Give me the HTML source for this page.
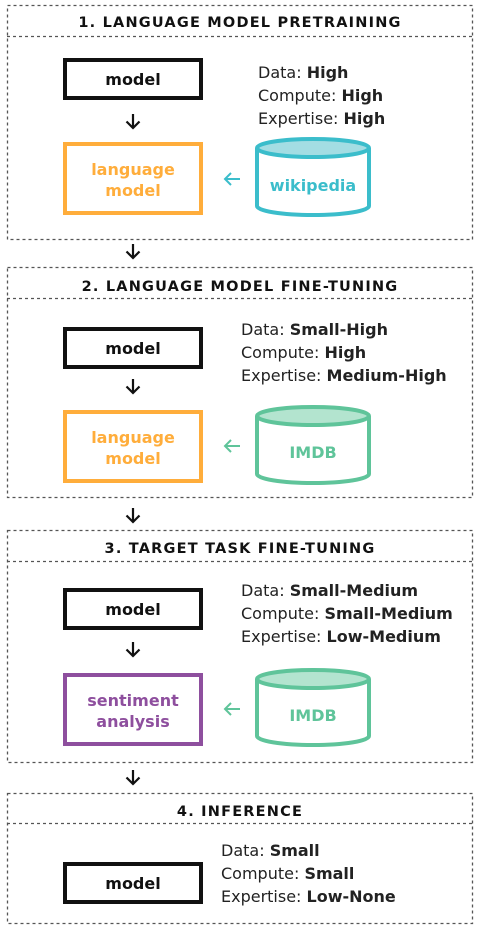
<!DOCTYPE html>
<html><head><meta charset="utf-8"><style>
html,body{margin:0;padding:0;background:#fff;width:480px;height:934px;overflow:hidden}
text{font-family:"DejaVu Sans","Liberation Sans",sans-serif}
.t{font-weight:bold;font-size:14.5px;letter-spacing:1.2px;fill:#111}
.d{font-size:16px;fill:#222}
.b{font-weight:bold}
.bx{font-weight:bold;font-size:16px}
</style></head><body>
<svg width="480" height="934" viewBox="0 0 480 934" xmlns="http://www.w3.org/2000/svg">
<defs>
<g id="dn"><path d="M0 0V14M-6.5 7.5L0 14L6.5 7.5" fill="none" stroke="#111" stroke-width="2.2"/></g>
</defs>
<g fill="none" stroke="#555" stroke-width="1.3" stroke-dasharray="3,3">
<rect x="7.5" y="5.5" width="465" height="234"/><line x1="7" y1="36.5" x2="473" y2="36.5"/>
<rect x="7.5" y="267.5" width="465" height="230"/><line x1="7" y1="298.5" x2="473" y2="298.5"/>
<rect x="7.5" y="530.5" width="465" height="232"/><line x1="7" y1="561.5" x2="473" y2="561.5"/>
<rect x="7.5" y="793.5" width="465" height="130"/><line x1="7" y1="823.5" x2="473" y2="823.5"/>
</g>
<text class="t" x="240" y="27" text-anchor="middle">1. LANGUAGE MODEL PRETRAINING</text>
<text class="t" x="240" y="291" text-anchor="middle">2. LANGUAGE MODEL FINE-TUNING</text>
<text class="t" x="240" y="553" text-anchor="middle">3. TARGET TASK FINE-TUNING</text>
<text class="t" x="240" y="816" text-anchor="middle">4. INFERENCE</text>
<use href="#dn" x="133" y="114"/><use href="#dn" x="133" y="244"/>
<use href="#dn" x="133" y="379"/><use href="#dn" x="133" y="508"/>
<use href="#dn" x="133" y="642"/><use href="#dn" x="133" y="770"/>
<g fill="none" stroke-width="4">
<rect x="65" y="60" width="136" height="38" stroke="#111"/>
<rect x="65" y="144" width="136" height="69" stroke="#ffad3b"/>
<rect x="65" y="329" width="136" height="38" stroke="#111"/>
<rect x="65" y="412" width="136" height="69" stroke="#ffad3b"/>
<rect x="65" y="590" width="136" height="38" stroke="#111"/>
<rect x="65" y="675" width="136" height="69" stroke="#8e4f9e"/>
<rect x="65" y="864" width="136" height="38" stroke="#111"/>
</g>
<g class="bx" text-anchor="middle">
<text x="133" y="85" fill="#111">model</text>
<text x="133" y="175" fill="#ffad3b">language</text><text x="133" y="196" fill="#ffad3b">model</text>
<text x="133" y="354" fill="#111">model</text>
<text x="133" y="443" fill="#ffad3b">language</text><text x="133" y="464" fill="#ffad3b">model</text>
<text x="133" y="615" fill="#111">model</text>
<text x="133" y="706" fill="#8e4f9e">sentiment</text><text x="133" y="727" fill="#8e4f9e">analysis</text>
<text x="133" y="889" fill="#111">model</text>
</g>
<g stroke-width="4">
<path d="M257 148V206A56 9 0 0 0 369 206V148" fill="#fff" stroke="#3bbdcb"/>
<ellipse cx="313" cy="148" rx="56" ry="9" fill="#a3dde3" stroke="#3bbdcb"/>
<path d="M257 416V474A56 9 0 0 0 369 474V416" fill="#fff" stroke="#5fc49a"/>
<ellipse cx="313" cy="416" rx="56" ry="9" fill="#b3e4cf" stroke="#5fc49a"/>
<path d="M257 679V736A56 9 0 0 0 369 736V679" fill="#fff" stroke="#5fc49a"/>
<ellipse cx="313" cy="679" rx="56" ry="9" fill="#b3e4cf" stroke="#5fc49a"/>
</g>
<g class="bx" text-anchor="middle">
<text x="313" y="191" fill="#3bbdcb">wikipedia</text>
<text x="313" y="458" fill="#5fc49a">IMDB</text>
<text x="313" y="721" fill="#5fc49a">IMDB</text>
</g>
<g fill="none" stroke-width="2">
<path d="M240 179H225M231 173L225 179L231 185" stroke="#3bbdcb"/>
<path d="M240 446H225M231 440L225 446L231 452" stroke="#5fc49a"/>
<path d="M240 709H225M231 703L225 709L231 715" stroke="#5fc49a"/>
</g>
<g class="d">
<text x="258" y="78">Data: <tspan class="b">High</tspan></text>
<text x="258" y="101">Compute: <tspan class="b">High</tspan></text>
<text x="258" y="124">Expertise: <tspan class="b">High</tspan></text>
<text x="241" y="335">Data: <tspan class="b">Small-High</tspan></text>
<text x="241" y="358">Compute: <tspan class="b">High</tspan></text>
<text x="241" y="381">Expertise: <tspan class="b">Medium-High</tspan></text>
<text x="241" y="596">Data: <tspan class="b">Small-Medium</tspan></text>
<text x="241" y="619">Compute: <tspan class="b">Small-Medium</tspan></text>
<text x="241" y="642">Expertise: <tspan class="b">Low-Medium</tspan></text>
<text x="221" y="856">Data: <tspan class="b">Small</tspan></text>
<text x="221" y="879">Compute: <tspan class="b">Small</tspan></text>
<text x="221" y="902">Expertise: <tspan class="b">Low-None</tspan></text>
</g>
</svg>
</body></html>
